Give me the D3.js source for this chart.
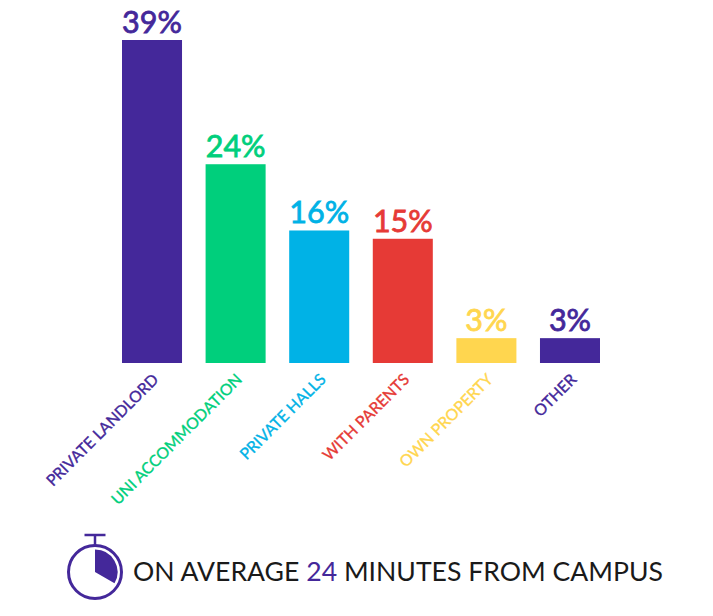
<!DOCTYPE html>
<html><head><meta charset="utf-8">
<style>html,body{margin:0;padding:0;background:#fff}svg{display:block}text{font-family:Lato,"Open Sans",sans-serif}</style>
<script src="https://cdn.jsdelivr.net/npm/d3@7"></script></head>
<body><svg id="c" width="713" height="616"></svg>
<script>
const categories=["PRIVATE LANDLORD","UNI ACCOMMODATION","PRIVATE HALLS","WITH PARENTS","OWN PROPERTY","OTHER"];
const values=[39,24,16,15,3,3];
const colors=["#44289a","#00cf7c","#00b2e6","#e63a36","#ffd64f","#44289a"];
const footerParts=[["ON AVERAGE ","#1a1a1a"],["24","#44289a"],[" MINUTES FROM CAMPUS","#1a1a1a"]];
const wedgeMinutes=20;

const svg=d3.select("#c");
const x=d3.scaleBand().domain(categories).range([122,600]).paddingInner(0.282).paddingOuter(0);
const y=d3.scaleLinear().domain([0,39]).range([363,40]);
const color=d3.scaleOrdinal().domain(categories).range(colors);
const rows=categories.map((c,i)=>({c,v:values[i]}));

svg.selectAll("rect.bar").data(rows).join("rect").attr("class","bar")
  .attr("x",d=>x(d.c)).attr("y",d=>y(d.v)).attr("width",x.bandwidth())
  .attr("height",d=>y(0)-y(d.v)).attr("fill",d=>color(d.c));

svg.selectAll("text.val").data(rows).join("text").attr("class","val")
  .attr("x",d=>x(d.c)+x.bandwidth()/2).attr("y",d=>y(d.v)-7)
  .attr("text-anchor","middle").attr("font-size",30.5).attr("font-weight",400)
  .attr("stroke",d=>color(d.c)).attr("stroke-width",0.8)
  .attr("fill",d=>color(d.c)).text(d=>d.v+"%");

svg.selectAll("text.cat").data(rows).join("text").attr("class","cat")
  .attr("transform",d=>`translate(${x(d.c)+x.bandwidth()/2+7.5},${y(0)+17.5}) rotate(-45)`)
  .attr("text-anchor","end").attr("font-size",15.8)
  .attr("stroke",d=>color(d.c)).attr("stroke-width",0.35)
  .attr("fill",d=>color(d.c)).text(d=>d.c);

const watch=svg.append("g").attr("transform","translate(95,572)");
const purple=colors[0];
watch.append("circle").attr("r",26.5).attr("fill","none").attr("stroke",purple).attr("stroke-width",3);
watch.append("line").attr("y1",-27).attr("y2",-37).attr("stroke",purple).attr("stroke-width",2.5);
watch.append("line").attr("x1",-10.5).attr("x2",10.5).attr("y1",-37).attr("y2",-37).attr("stroke",purple).attr("stroke-width",2.5);
watch.append("path").attr("fill",purple)
  .attr("d",d3.arc()({innerRadius:0,outerRadius:22.5,startAngle:0,endAngle:wedgeMinutes/60*2*Math.PI}));

const foot=svg.append("text").attr("x",133).attr("y",581).attr("font-size",26.6);
foot.selectAll("tspan").data(footerParts).join("tspan").attr("fill",d=>d[1]).attr("xml:space","preserve").style("white-space","pre").text(d=>d[0]);
</script></body></html>
